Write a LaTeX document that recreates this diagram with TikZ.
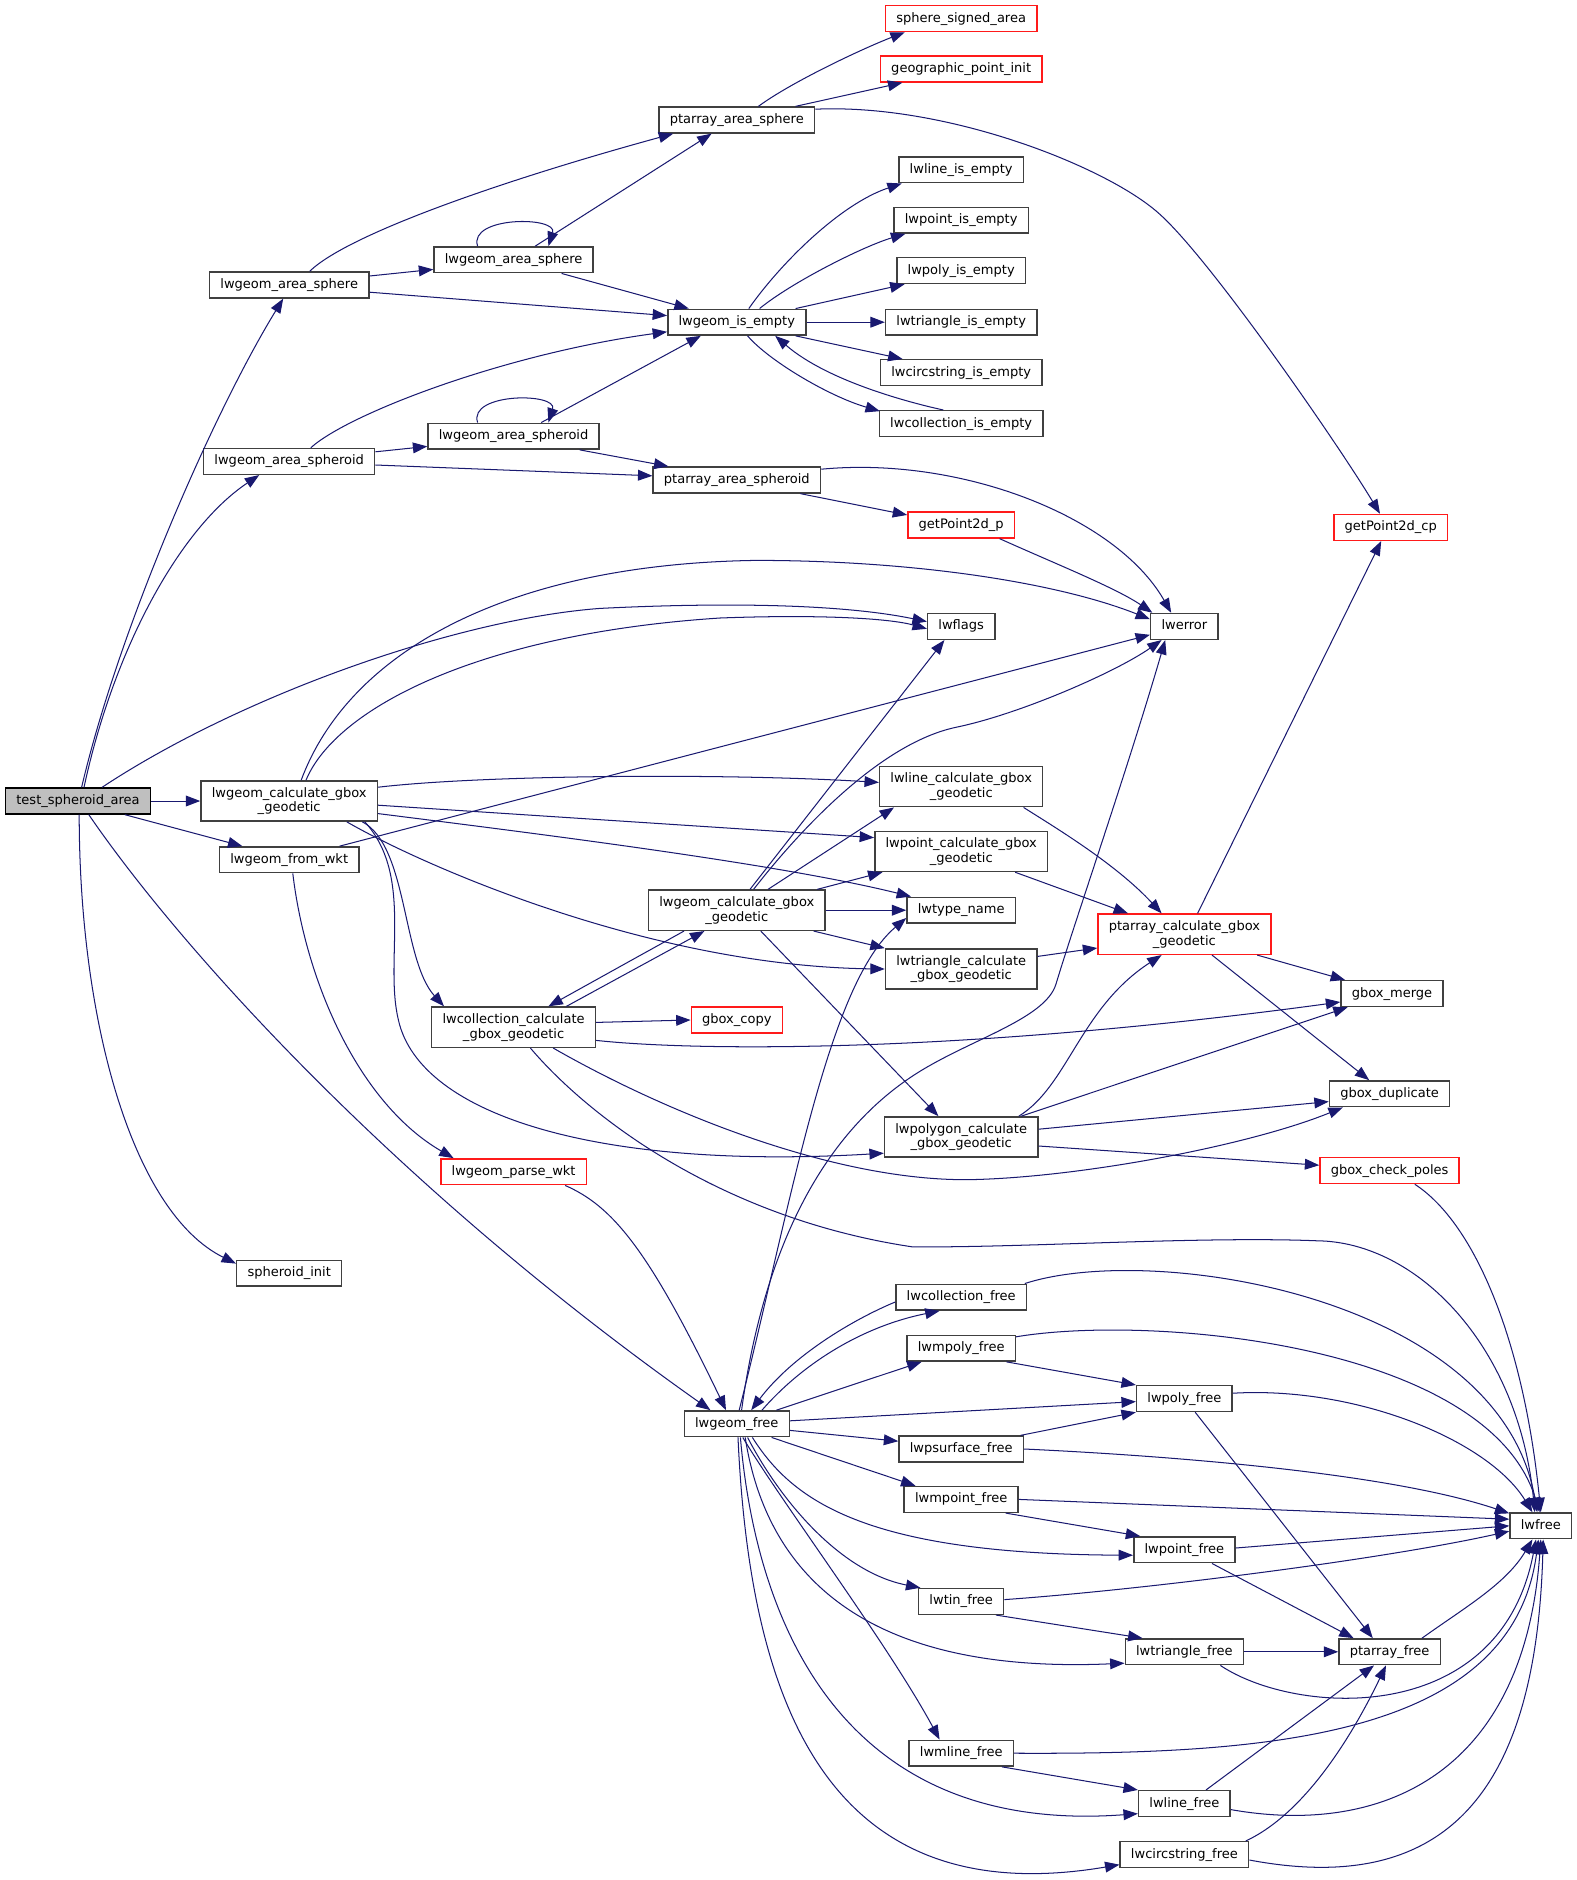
\documentclass[tikz,border=0pt]{standalone}
\usepackage{fontspec}
\setmainfont{DejaVu Sans}
\usetikzlibrary{arrows.meta}
\definecolor{edgec}{HTML}{191970}
\definecolor{nodeb}{HTML}{404040}
\definecolor{nred}{HTML}{FF1A1A}
\definecolor{tfill}{HTML}{BFBFBF}
\newcommand{\lblfont}{\fontsize{10.85}{12.3}\selectfont}
\tikzset{
  nbase/.style={draw=nodeb, line width=1.25pt, fill=white, inner xsep=9pt, inner ysep=0pt, font=\lblfont},
  fn/.style={nbase, minimum height=21.5pt, text height=8.2pt, text depth=2.5pt},
  fn2/.style={nbase, minimum height=33.5pt, align=center},
  rd/.style={draw=nred},
  ed/.style={draw=edgec, line width=0.85pt, -{Triangle[length=12pt,width=9pt]}},
}
\begin{document}
\begin{tikzpicture}[x=1pt,y=-1pt]
\useasboundingbox[fill=white] (0,0) rectangle (1314.17,1566.67);
% column 0/1
\node[fn, fill=tfill, draw=black] (t) at (65,667.5) {test\_spheroid\_area};
\node[fn] (as1) at (241,237.5) {lwgeom\_area\_sphere};
\node[fn] (asd1) at (241,384.5) {lwgeom\_area\_spheroid};
\node[fn2] (gc1) at (241,667.5) {lwgeom\_calculate\_gbox\\\_geodetic};
\node[fn] (fw) at (241,716.5) {lwgeom\_from\_wkt};
\node[fn] (si) at (241,1061) {spheroid\_init};
% column 2
\node[fn] (as2) at (428,216.5) {lwgeom\_area\_sphere};
\node[fn] (asd2) at (428,363.5) {lwgeom\_area\_spheroid};
\node[fn2] (cc) at (428,856) {lwcollection\_calculate\\\_gbox\_geodetic};
\node[fn, rd] (pw) at (428,976.5) {lwgeom\_parse\_wkt};
% column 3
\node[fn] (pas) at (614,100) {ptarray\_area\_sphere};
\node[fn] (ie) at (614,268.5) {lwgeom\_is\_empty};
\node[fn] (pasd) at (614,400) {ptarray\_area\_spheroid};
\node[fn2] (gc2) at (614,758.5) {lwgeom\_calculate\_gbox\\\_geodetic};
\node[fn, rd] (gbc) at (614,850) {gbox\_copy};
\node[fn] (gf) at (614,1186.5) {lwgeom\_free};
% column 4
\node[fn, rd] (ssa) at (801,15.5) {sphere\_signed\_area};
\node[fn, rd] (gpi) at (801,57.5) {geographic\_point\_init};
\node[fn] (lie) at (801,141.5) {lwline\_is\_empty};
\node[fn] (lpe) at (801,183.5) {lwpoint\_is\_empty};
\node[fn] (lpye) at (801,225.5) {lwpoly\_is\_empty};
\node[fn] (lte) at (801,268.5) {lwtriangle\_is\_empty};
\node[fn] (lce) at (801,310.5) {lwcircstring\_is\_empty};
\node[fn] (lcoe) at (801,353) {lwcollection\_is\_empty};
\node[fn, rd] (gp2) at (801,437.5) {getPoint2d\_p};
\node[fn] (lfl) at (801,522) {lwflags};
\node[fn2] (llc) at (801,655.5) {lwline\_calculate\_gbox\\\_geodetic};
\node[fn2] (lpc) at (801,709.5) {lwpoint\_calculate\_gbox\\\_geodetic};
\node[fn] (ltn) at (801,758.5) {lwtype\_name};
\node[fn2] (ltc) at (801,807.5) {lwtriangle\_calculate\\\_gbox\_geodetic};
\node[fn2] (lpgc) at (801,947.5) {lwpolygon\_calculate\\\_gbox\_geodetic};
\node[fn] (lcf) at (801,1081) {lwcollection\_free};
\node[fn] (lmpyf) at (801,1123.5) {lwmpoly\_free};
\node[fn] (lpsf) at (801,1207.5) {lwpsurface\_free};
\node[fn] (lmptf) at (801,1249.5) {lwmpoint\_free};
\node[fn] (ltinf) at (801,1334.5) {lwtin\_free};
\node[fn] (lmlf) at (801,1461) {lwmline\_free};
% column 5
\node[fn] (ler) at (987,522) {lwerror};
\node[fn2, rd] (ptc) at (987,778.5) {ptarray\_calculate\_gbox\\\_geodetic};
\node[fn] (lpyf) at (987,1165.5) {lwpoly\_free};
\node[fn] (lptf) at (987,1291.5) {lwpoint\_free};
\node[fn] (ltrf) at (987,1376.5) {lwtriangle\_free};
\node[fn] (llf) at (987,1503) {lwline\_free};
\node[fn] (lcsf) at (987,1545.5) {lwcircstring\_free};
% column 6/7
\node[fn, rd] (gp2c) at (1159,439.5) {getPoint2d\_cp};
\node[fn] (gm) at (1160,828) {gbox\_merge};
\node[fn] (gd) at (1158,911.5) {gbox\_duplicate};
\node[fn, rd] (gcp) at (1158,975.5) {gbox\_check\_poles};
\node[fn] (ptf) at (1158,1376.5) {ptarray\_free};
\node[fn] (lwf) at (1284,1271.5) {lwfree};

% edges from test_spheroid_area
\draw[ed] ([xshift=3pt]t.north) .. controls (100,520) and (180,340) .. ([xshift=-5pt]as1.south);
\draw[ed] ([xshift=5pt]t.north) .. controls (95,540) and (150,440) .. ([xshift=-25pt]asd1.south);
\draw[ed] (t) -- (gc1);
\draw[ed] ([xshift=39pt]t.south) -- ([xshift=-39pt]fw.north);
\draw[ed] ([xshift=20pt]t.north) .. controls (200,580) and (380,516) .. (500,507) .. controls (600,502) and (700,503) .. ([yshift=4pt]lfl.west);
\draw[ed] ([xshift=9pt]t.south) .. controls (150,790) and (330,990) .. ([xshift=-22pt]gf.north);
\draw[ed] ([xshift=1pt]t.south) .. controls (66,850) and (110,1010) .. ([yshift=8pt]si.west);
% area sphere
\draw[ed] ([xshift=17pt]as1.north) .. controls (290,195) and (420,150) .. ([xshift=-53pt]pas.south);
\draw[ed] ([yshift=7.5pt]as1.east) -- ([yshift=-8pt]as2.west);
\draw[ed] ([yshift=-6pt]as1.east) -- ([yshift=5.5pt]ie.west);
\draw[ed] ([xshift=-30pt]as2.north) .. controls (390,180) and (465,180) .. ([xshift=29pt]as2.north);
\draw[ed] ([xshift=18pt]as2.north) -- ([xshift=-21pt]pas.south);
\draw[ed] ([xshift=40pt]as2.south) -- ([xshift=-40pt]ie.north);
% area spheroid
\draw[ed] ([xshift=18pt]asd1.north) .. controls (290,345) and (420,295) .. ([yshift=-8pt]ie.west);
\draw[ed] ([yshift=8pt]asd1.east) -- ([yshift=-8.5pt]asd2.west);
\draw[ed] ([yshift=-3pt]asd1.east) -- ([yshift=3.5pt]pasd.west);
\draw[ed] ([xshift=-30pt]asd2.north) .. controls (390,327) and (465,327) .. ([xshift=29pt]asd2.north);
\draw[ed] ([xshift=23pt]asd2.north) -- ([xshift=-30pt]ie.south);
\draw[ed] ([xshift=55pt]asd2.south) -- ([xshift=-57pt]pasd.north);
% ptarray_area_sphere
\draw[ed] ([xshift=18pt]pas.north) .. controls (660,68) and (720,40) .. ([xshift=-47pt]ssa.south);
\draw[ed] ([xshift=49pt]pas.north) -- ([xshift=-49pt]gpi.south);
\draw[ed] ([yshift=9pt]pas.east) .. controls (790,86) and (925,140) .. (967,179) .. controls (1010,218) and (1115,370) .. ([xshift=-9pt]gp2c.north);
% lwgeom_is_empty
\draw[ed] ([xshift=10pt]ie.north) .. controls (650,220) and (700,170) .. ([xshift=3pt]lie.south west);
\draw[ed] ([xshift=19pt]ie.north) .. controls (660,235) and (720,205) .. ([xshift=10pt]lpe.south west);
\draw[ed] ([xshift=49pt]ie.north) -- ([xshift=7pt]lpye.south west);
\draw[ed] (ie) -- (lte);
\draw[ed] ([xshift=49pt]ie.south) -- ([xshift=19pt]lce.north west);
\draw[ed] ([xshift=9pt]ie.south) .. controls (640,300) and (690,330) .. ([xshift=1pt,yshift=-1pt]lcoe.north west);
\draw[ed] ([xshift=-15pt]lcoe.north) .. controls (760,336) and (690,318) .. ([xshift=32pt]ie.south);
% ptarray_area_spheroid
\draw[ed] ([yshift=9pt]pasd.east) .. controls (800,380) and (930,430) .. ([xshift=-11pt]ler.north);
\draw[ed] ([xshift=53pt]pasd.south) -- ([yshift=-3pt]gp2.north west);
\draw[ed] ([xshift=32pt]gp2.south) .. controls (880,470) and (930,490) .. ([xshift=2pt]ler.north west);
% lwgeom_calculate_gbox_geodetic (left)
\draw[ed] ([xshift=10pt]gc1.north) .. controls (290,545) and (420,470) .. (630,467) .. controls (760,467) and (880,485) .. ([yshift=6pt]ler.west);
\draw[ed] ([xshift=14pt]gc1.north) .. controls (280,590) and (400,528) .. (600,515) .. controls (680,512) and (740,515) .. ([yshift=-2pt]lfl.west);
\draw[ed] ([yshift=11.5pt]gc1.east) .. controls (400,646) and (600,644) .. ([yshift=3.5pt]llc.west);
\draw[ed] ([yshift=-3.5pt]gc1.east) -- ([yshift=11.5pt]lpc.west);
\draw[ed] ([yshift=-10.5pt]gc1.east) .. controls (450,695) and (650,720) .. ([xshift=4pt]ltn.north west);
\draw[ed] ([xshift=48pt]gc1.south) .. controls (350,720) and (540,805) .. (ltc.west);
\draw[ed] ([xshift=61pt]gc1.south) .. controls (340,705) and (335,800) .. ([xshift=-58pt]cc.north);
\draw[ed] ([xshift=63pt]gc1.south) .. controls (345,730) and (320,800) .. (332,850) .. controls (350,930) and (500,975) .. ([yshift=-13.5pt]lpgc.west);
% lwgeom_from_wkt
\draw[ed] ([xshift=42pt]fw.north) -- ([yshift=-7pt]ler.west);
\draw[ed] ([xshift=3pt]fw.south) .. controls (255,820) and (300,920) .. ([xshift=-50pt]pw.north);
% lwgeom_calculate_gbox_geodetic (middle)
\draw[ed] ([xshift=11pt]gc2.north) -- ([xshift=-14pt]lfl.south);
\draw[ed] ([xshift=14pt]gc2.north) .. controls (660,700) and (730,620) .. (797,606) .. controls (850,595) and (930,560) .. ([xshift=-19pt]ler.south);
\draw[ed] ([xshift=26pt]gc2.north) -- ([xshift=-56pt]llc.south);
\draw[ed] ([xshift=67pt]gc2.north) -- ([xshift=7pt]lpc.south west);
\draw[ed] (gc2) -- (ltn);
\draw[ed] ([xshift=64pt]gc2.south) -- (ltc.north west);
\draw[ed] ([xshift=20pt]gc2.south) -- ([xshift=-19pt]lpgc.north);
\draw[ed] ([xshift=-44pt]gc2.south) -- ([xshift=29pt]cc.north);
% lwcollection_calculate_gbox_geodetic
\draw[ed] ([xshift=44pt]cc.north) -- ([xshift=-27pt]gc2.south);
\draw[ed] ([yshift=4pt]cc.east) -- (gbc.west);
\draw[ed] ([yshift=-11pt]cc.east) .. controls (580,876) and (800,878) .. ([yshift=-7pt]gm.west);
\draw[ed] ([xshift=33pt]cc.south) .. controls (560,930) and (700,985) .. (810,983) .. controls (900,981) and (1040,955) .. ([xshift=-39pt]gd.south);
\draw[ed] ([xshift=14pt]cc.south) .. controls (490,930) and (600,1015) .. (760,1039) .. controls (850,1040) and (1000,1030) .. (1098,1034) .. controls (1180,1035) and (1265,1120) .. ([xshift=-5pt]lwf.north);
% lwgeom_free
\draw[ed] ([xshift=4pt]gf.north) .. controls (635,1050) and (680,950) .. (760,897) .. controls (805,867) and (871,850) .. (880,820) .. controls (895,770) and (940,640) .. ([xshift=-16pt]ler.south);
\draw[ed] ([xshift=2pt]gf.north) .. controls (660,1000) and (690,820) .. ([yshift=-6.5pt]ltn.west);
\draw[ed] ([xshift=43pt]pw.south) .. controls (510,1005) and (540,1040) .. ([xshift=-9pt]gf.north);
\draw[ed] ([yshift=-4pt]lcf.west) .. controls (710,1100) and (660,1130) .. ([xshift=12pt]gf.north);
\draw[ed] ([xshift=21pt]gf.north) .. controls (670,1135) and (720,1105) .. ([xshift=-18pt]lcf.south);
\draw[ed] ([xshift=33pt]gf.north) -- ([xshift=-33pt]lmpyf.south);
\draw[ed] ([yshift=2.5pt]gf.east) -- ([yshift=-2.5pt]lpyf.west);
\draw[ed] ([yshift=-5.5pt]gf.east) -- ([yshift=6.5pt]lpsf.west);
\draw[ed] ([xshift=29pt]gf.south) -- ([xshift=10pt]lmptf.north west);
\draw[ed] ([xshift=13pt]gf.south) .. controls (660,1250) and (720,1295) .. ([yshift=-4.5pt]lptf.west);
\draw[ed] ([xshift=9pt]gf.south) .. controls (650,1250) and (700,1310) .. ([xshift=2pt]ltinf.north west);
\draw[ed] ([xshift=7pt]gf.south) .. controls (640,1320) and (730,1395) .. ([yshift=-9.5pt]ltrf.west);
\draw[ed] ([xshift=5pt]gf.south) .. controls (650,1250) and (740,1370) .. ([xshift=-18pt]lmlf.north);
\draw[ed] ([xshift=3pt]gf.south) .. controls (630,1350) and (700,1530) .. ([yshift=3pt]llf.south west);
\draw[ed] ([xshift=1pt]gf.south) .. controls (625,1420) and (690,1595) .. ([yshift=3pt]lcsf.south west);
% free functions
\draw[ed] ([xshift=-2pt]lcf.north east) .. controls (960,1035) and (1250,1080) .. ([xshift=-3pt]lwf.north);
\draw[ed] ([yshift=9.5pt]lmpyf.east) .. controls (960,1095) and (1240,1120) .. ([xshift=-1pt]lwf.north);
\draw[ed] ([xshift=-8pt]lmpyf.south east) -- (lpyf.north west);
\draw[ed] ([xshift=-3pt]lpsf.north east) -- (lpyf.south west);
\draw[ed] (lpsf.east) .. controls (950,1212) and (1150,1225) .. ([yshift=-1pt]lwf.north west);
\draw[ed] ([yshift=4.5pt]lpyf.east) .. controls (1130,1155) and (1240,1200) .. ([xshift=-7pt]lwf.north);
\draw[ed] ([xshift=9pt]lpyf.south) -- ([xshift=-14pt]ptf.north);
\draw[ed] (lmptf.east) -- ([yshift=5.5pt]lwf.west);
\draw[ed] ([xshift=37pt]lmptf.south) -- ([xshift=6pt]lptf.north west);
\draw[ed] ([yshift=1.5pt]lptf.east) -- (lwf.west);
\draw[ed] ([xshift=23pt]lptf.south) -- ([xshift=-30pt]ptf.north);
\draw[ed] ([yshift=1.5pt]ltinf.east) .. controls (950,1325) and (1150,1300) .. ([yshift=-4.5pt]lwf.west);
\draw[ed] ([xshift=29pt]ltinf.south) -- ([xshift=15pt]ltrf.north west);
\draw[ed] (ltrf) -- (ptf);
\draw[ed] ([xshift=30pt]ltrf.south) .. controls (1080,1430) and (1250,1440) .. ([xshift=-4pt]lwf.south);
\draw[ed] ([xshift=27pt]ptf.north) .. controls (1220,1340) and (1255,1320) .. ([xshift=-7pt]lwf.south);
\draw[ed] (lmlf.east) .. controls (1050,1462) and (1260,1450) .. ([xshift=-2pt]lwf.south);
\draw[ed] ([xshift=34pt]lmlf.south) -- (llf.north west);
\draw[ed] ([xshift=18pt]llf.north) -- ([xshift=-13pt]ptf.south);
\draw[ed] ([yshift=-5pt]llf.east) .. controls (1150,1530) and (1270,1480) .. (lwf.south);
\draw[ed] ([xshift=-3pt]lcsf.north east) .. controls (1090,1510) and (1130,1440) .. ([xshift=-3pt]ptf.south);
\draw[ed] ([yshift=-4.5pt]lcsf.east) .. controls (1200,1580) and (1280,1500) .. ([xshift=2pt]lwf.south);
\draw[ed] ([xshift=21pt]gcp.south) .. controls (1230,1020) and (1270,1120) .. (lwf.north);
% polygon / line / point / triangle gbox
\draw[ed] ([xshift=48pt]lpgc.north) .. controls (890,905) and (900,840) .. ([xshift=-19pt]ptc.south);
\draw[ed] ([xshift=50pt]lpgc.north) -- ([xshift=-37pt]gm.south);
\draw[ed] ([yshift=6.5pt]lpgc.east) -- ([yshift=-6.5pt]gd.west);
\draw[ed] ([yshift=-7.5pt]lpgc.east) -- ([yshift=4.5pt]gcp.west);
\draw[ed] ([xshift=52pt]llc.south) .. controls (880,690) and (930,720) .. ([xshift=-19pt]ptc.north);
\draw[ed] ([xshift=45pt]lpc.south) -- ([xshift=-47pt]ptc.north);
\draw[ed] ([yshift=10.5pt]ltc.east) -- ([yshift=-11.5pt]ptc.west);
\draw[ed] ([xshift=11pt]ptc.north) -- ([xshift=-8pt]gp2c.south);
\draw[ed] ([xshift=-12pt]ptc.south east) -- ([xshift=4pt]gm.north west);
\draw[ed] ([xshift=23pt]ptc.south) -- ([xshift=-17pt]gd.north);
\end{tikzpicture}
\end{document}
